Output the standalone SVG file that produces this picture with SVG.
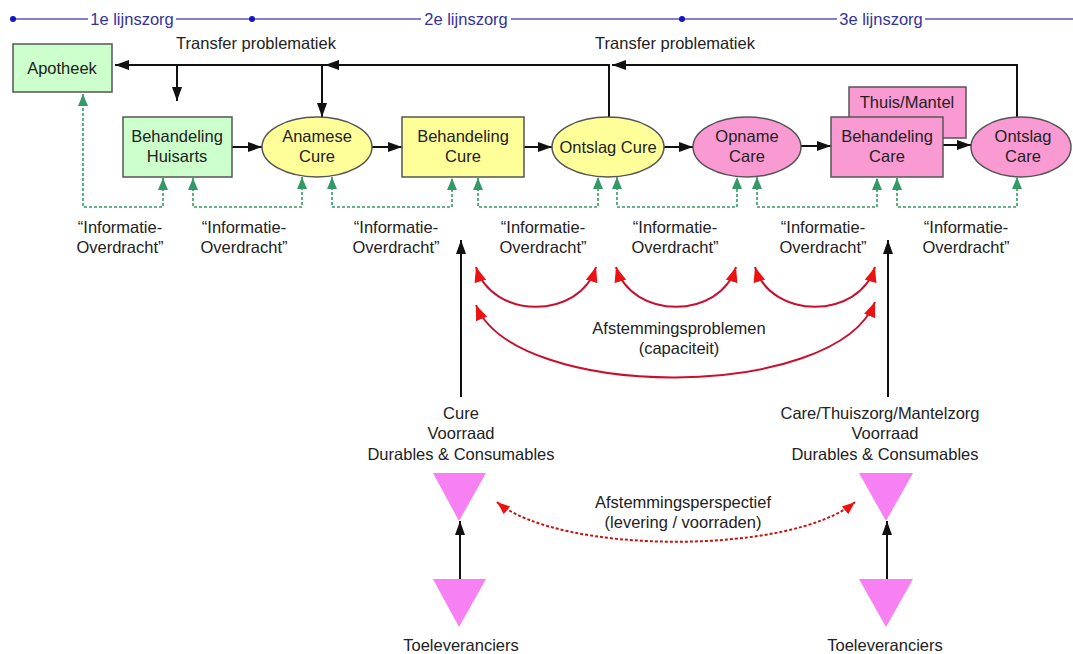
<svg xmlns="http://www.w3.org/2000/svg" width="1073" height="654" viewBox="0 0 1073 654">
  <style>
    text { font-family: "Liberation Sans", Arial, sans-serif; font-size: 16.5px; fill: #222; text-anchor: middle; }
    .lane { fill: #333399; }
    .laneline { stroke: #5555cc; stroke-width: 1.3; fill: none; }
    .green { fill: #ccffcc; stroke: #555; stroke-width: 1.5; }
    .yellow { fill: #ffff99; stroke: #555; stroke-width: 1.5; }
    .pink { fill: #f99ad2; stroke: #555; stroke-width: 1.5; }
    .stock { fill: #f780f2; stroke: none; }
    .flow { stroke: #111; stroke-width: 2; fill: none; }
    .info { stroke: #339966; stroke-width: 1.6; stroke-dasharray: 3 2; fill: none; }
    .sync { stroke: #c8102e; stroke-width: 2; fill: none; }
    .supply { stroke: #cc1111; stroke-width: 2; stroke-dasharray: 3 2; fill: none; }
  </style>
  <defs>
    <marker id="ah-black" markerUnits="userSpaceOnUse" markerWidth="14" markerHeight="10" refX="14" refY="5" orient="auto">
      <path d="M0,0 L14,5 L0,10 z" fill="#111"/>
    </marker>
    <marker id="ah-green" markerUnits="userSpaceOnUse" markerWidth="12" markerHeight="10" refX="12" refY="5" orient="auto-start-reverse">
      <path d="M0,0 L12,5 L0,10 z" fill="#339966"/>
    </marker>
    <marker id="ah-red" markerUnits="userSpaceOnUse" markerWidth="15" markerHeight="12" refX="15" refY="6" orient="auto-start-reverse">
      <path d="M0,0 L15,6 L0,12 z" fill="#ee1111"/>
    </marker>
    <marker id="ah-red-s" markerUnits="userSpaceOnUse" markerWidth="13" markerHeight="10" refX="13" refY="5" orient="auto-start-reverse">
      <path d="M0,0 L13,5 L0,10 z" fill="#ee1111"/>
    </marker>
  </defs>

  <!-- care levels timeline -->
  <g id="levels">
    <path class="laneline" d="M13,19 H88 M176,19 H421 M511,19 H837 M925,19 H1073"/>
    <circle cx="13" cy="19" r="3" fill="#1515c0"/>
    <circle cx="252" cy="19" r="3" fill="#1515c0"/>
    <circle cx="682" cy="19" r="3" fill="#1515c0"/>
    <text class="lane" x="132" y="25">1e lijnszorg</text>
    <text class="lane" x="466" y="25">2e lijnszorg</text>
    <text class="lane" x="881" y="25">3e lijnszorg</text>
  </g>

  <text x="256" y="49">Transfer problematiek</text>
  <text x="675" y="49">Transfer problematiek</text>

  <!-- connectors -->
  <g id="connectors">
    <!-- transfer feedback lines -->
    <path class="flow" d="M609,117 V65 H115" marker-end="url(#ah-black)"/>
    <path class="flow" d="M345,65 H325" marker-end="url(#ah-black)"/>
    <path class="flow" d="M177,65 V101" marker-end="url(#ah-black)"/>
    <path class="flow" d="M322,65 V117" marker-end="url(#ah-black)"/>
    <path class="flow" d="M1017,118 V65 H612" marker-end="url(#ah-black)"/>
    <!-- main care chain -->
    <path class="flow" d="M232,147 H262" marker-end="url(#ah-black)"/>
    <path class="flow" d="M372,147 H402" marker-end="url(#ah-black)"/>
    <path class="flow" d="M524,147 H552" marker-end="url(#ah-black)"/>
    <path class="flow" d="M664,147 H693" marker-end="url(#ah-black)"/>
    <path class="flow" d="M801,146 H831" marker-end="url(#ah-black)"/>
    <path class="flow" d="M943,145 H971" marker-end="url(#ah-black)"/>
    <!-- information handover -->
    <path class="info" d="M163,178 V207 H83 V94" marker-start="url(#ah-green)" marker-end="url(#ah-green)"/>
    <path class="info" d="M193,178 V207 H302 V177" marker-start="url(#ah-green)" marker-end="url(#ah-green)"/>
    <path class="info" d="M332,177 V207 H452 V178" marker-start="url(#ah-green)" marker-end="url(#ah-green)"/>
    <path class="info" d="M478,178 V207 H598 V177" marker-start="url(#ah-green)" marker-end="url(#ah-green)"/>
    <path class="info" d="M617,177 V207 H737 V177" marker-start="url(#ah-green)" marker-end="url(#ah-green)"/>
    <path class="info" d="M757,177 V207 H877 V178" marker-start="url(#ah-green)" marker-end="url(#ah-green)"/>
    <path class="info" d="M897,178 V207 H1017 V177" marker-start="url(#ah-green)" marker-end="url(#ah-green)"/>
    <!-- capacity alignment -->
    <path class="sync" d="M476,267 C492,320 580,320 596,267" marker-start="url(#ah-red)" marker-end="url(#ah-red)"/>
    <path class="sync" d="M616,267 C632,320 720,320 736,267" marker-start="url(#ah-red)" marker-end="url(#ah-red)"/>
    <path class="sync" d="M755,267 C771,320 859,320 875,267" marker-start="url(#ah-red)" marker-end="url(#ah-red)"/>
    <path class="sync" d="M476,305 C515,402 836,402 875,302" marker-start="url(#ah-red)" marker-end="url(#ah-red)"/>
    <!-- stock supply lines -->
    <path class="flow" d="M461,397 V240" marker-end="url(#ah-black)"/>
    <path class="flow" d="M888,397 V240" marker-end="url(#ah-black)"/>
    <path class="flow" d="M460,579 V521" marker-end="url(#ah-black)"/>
    <path class="flow" d="M887,579 V521" marker-end="url(#ah-black)"/>
    <path class="supply" d="M497,502 C560,555 792,555 855,502" marker-start="url(#ah-red-s)" marker-end="url(#ah-red-s)"/>
  </g>

  <!-- nodes -->
  <g id="apotheek">
    <rect class="green" x="13" y="44" width="99" height="48"/>
    <text x="62" y="74">Apotheek</text>
  </g>
  <g id="behandeling-huisarts">
    <rect class="green" x="123" y="117" width="109" height="60"/>
    <text x="177" y="142">Behandeling</text>
    <text x="177" y="162">Huisarts</text>
  </g>
  <g id="anamese-cure">
    <ellipse class="yellow" cx="317" cy="147" rx="55" ry="30"/>
    <text x="317" y="142">Anamese</text>
    <text x="317" y="162">Cure</text>
  </g>
  <g id="behandeling-cure">
    <rect class="yellow" x="402" y="117" width="122" height="60"/>
    <text x="463" y="142">Behandeling</text>
    <text x="463" y="162">Cure</text>
  </g>
  <g id="ontslag-cure">
    <ellipse class="yellow" cx="608" cy="147" rx="56" ry="30"/>
    <text x="608" y="153">Ontslag Cure</text>
  </g>
  <g id="opname-care">
    <ellipse class="pink" cx="747" cy="147" rx="54" ry="30"/>
    <text x="747" y="142">Opname</text>
    <text x="747" y="162">Care</text>
  </g>
  <g id="thuis-mantel">
    <rect class="pink" x="849" y="87" width="117" height="51"/>
    <text x="907" y="108">Thuis/Mantel</text>
  </g>
  <g id="behandeling-care">
    <rect class="pink" x="831" y="117" width="112" height="60"/>
    <text x="887" y="142">Behandeling</text>
    <text x="887" y="162">Care</text>
  </g>
  <g id="ontslag-care">
    <ellipse class="pink" cx="1021" cy="147" rx="50" ry="30"/>
    <text x="1023" y="142">Ontslag</text>
    <text x="1023" y="162">Care</text>
  </g>

  <!-- information handover labels -->
  <g id="info-labels">
    <text x="120" y="233">“Informatie-</text><text x="120" y="253">Overdracht”</text>
    <text x="244" y="233">“Informatie-</text><text x="244" y="253">Overdracht”</text>
    <text x="396" y="233">“Informatie-</text><text x="396" y="253">Overdracht”</text>
    <text x="543" y="233">“Informatie-</text><text x="543" y="253">Overdracht”</text>
    <text x="675" y="233">“Informatie-</text><text x="675" y="253">Overdracht”</text>
    <text x="823" y="233">“Informatie-</text><text x="823" y="253">Overdracht”</text>
    <text x="966" y="233">“Informatie-</text><text x="966" y="253">Overdracht”</text>
  </g>

  <g id="capacity-label">
    <text x="679" y="334">Afstemmingsproblemen</text>
    <text x="679" y="354">(capaciteit)</text>
  </g>

  <g id="cure-stock">
    <text x="461" y="419">Cure</text>
    <text x="461" y="439">Voorraad</text>
    <text x="461" y="460">Durables &amp; Consumables</text>
    <polygon class="stock" points="433,473 486,473 459,521"/>
  </g>
  <g id="care-stock">
    <text x="880" y="419">Care/Thuiszorg/Mantelzorg</text>
    <text x="885" y="439">Voorraad</text>
    <text x="885" y="460">Durables &amp; Consumables</text>
    <polygon class="stock" points="859,473 913,473 886,521"/>
  </g>
  <g id="cure-suppliers">
    <polygon class="stock" points="433,579 486,579 459,627"/>
    <text x="461" y="651">Toeleveranciers</text>
  </g>
  <g id="care-suppliers">
    <polygon class="stock" points="859,579 913,579 886,627"/>
    <text x="885" y="651">Toeleveranciers</text>
  </g>

  <g id="supply-label">
    <text x="683" y="508">Afstemmingsperspectief</text>
    <text x="683" y="528">(levering / voorraden)</text>
  </g>
</svg>
